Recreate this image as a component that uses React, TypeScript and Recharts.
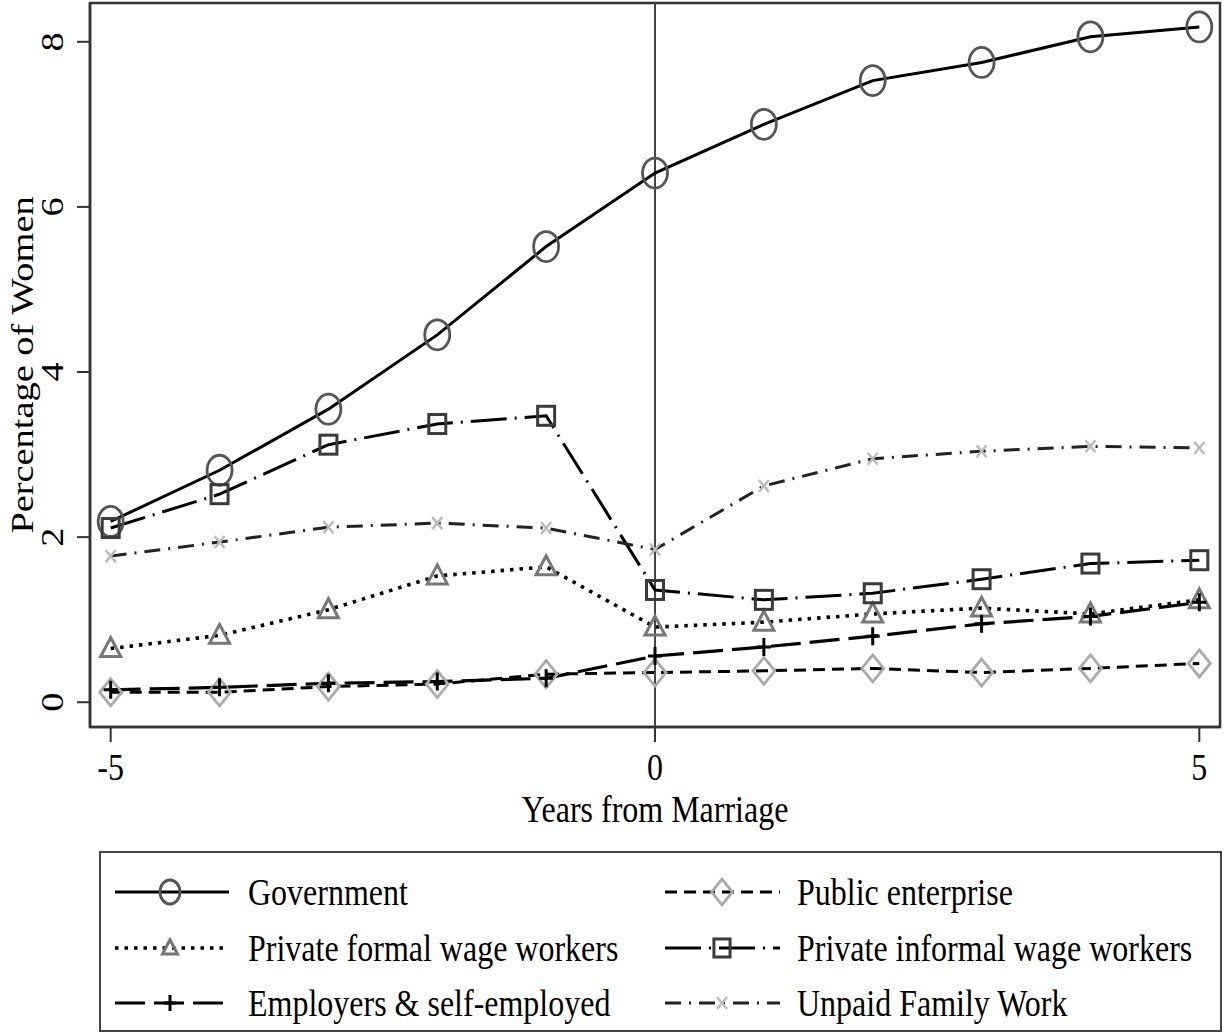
import React from 'react';
import { LineChart, Line, XAxis, YAxis, ReferenceLine, ReferenceArea, Legend, Label } from 'recharts';

// ---- data ----
const YEARS = [-5, -4, -3, -2, -1, 0, 1, 2, 3, 4, 5];
const government = [2.19, 2.81, 3.55, 4.45, 5.52, 6.41, 7.0, 7.53, 7.75, 8.06, 8.18];
const publicEnterprise = [0.12, 0.12, 0.19, 0.22, 0.34, 0.36, 0.38, 0.41, 0.36, 0.41, 0.47];
const privateFormal = [0.65, 0.81, 1.12, 1.53, 1.64, 0.91, 0.97, 1.07, 1.14, 1.07, 1.24];
const privateInformal = [2.11, 2.52, 3.12, 3.37, 3.47, 1.36, 1.24, 1.32, 1.49, 1.68, 1.72];
const employers = [0.15, 0.18, 0.23, 0.25, 0.29, 0.56, 0.67, 0.8, 0.95, 1.04, 1.21];
const unpaidFamily = [1.77, 1.94, 2.12, 2.17, 2.11, 1.85, 2.62, 2.95, 3.04, 3.1, 3.08];

const X_TICKS = [-5, 0, 5];
const Y_TICKS = [0, 2, 4, 6, 8];
const X_TITLE = 'Years from Marriage';
const Y_TITLE = 'Percentage of Women';

type MarkerKind = 'circle' | 'diamond' | 'triangle' | 'square' | 'plus' | 'x';

interface SeriesDef {
  key: string;
  name: string;
  values: number[];
}

const SERIES_DATA: SeriesDef[] = [
  { key: 'government', name: 'Government', values: government },
  { key: 'publicEnterprise', name: 'Public enterprise', values: publicEnterprise },
  { key: 'privateFormal', name: 'Private formal wage workers', values: privateFormal },
  { key: 'privateInformal', name: 'Private informal wage workers', values: privateInformal },
  { key: 'employers', name: 'Employers & self-employed', values: employers },
  { key: 'unpaidFamily', name: 'Unpaid Family Work', values: unpaidFamily },
];

// ---- styles ----
const STYLES: Record<string, { dash?: string; color: string; width: number; marker: MarkerKind; legendScale: number }> = {
  government: { color: '#000', width: 3, marker: 'circle', legendScale: 0.8 },
  publicEnterprise: { dash: '12 7', color: '#000', width: 3, marker: 'diamond', legendScale: 0.95 },
  privateFormal: { dash: '3.5 6', color: '#000', width: 3.6, marker: 'triangle', legendScale: 0.75 },
  privateInformal: { dash: '36 8 2 8', color: '#000', width: 3, marker: 'square', legendScale: 0.95 },
  employers: { dash: '30 9', color: '#000', width: 3.2, marker: 'plus', legendScale: 0.9 },
  unpaidFamily: { dash: '16 8 2 8', color: '#222', width: 3, marker: 'x', legendScale: 1 },
};

const FONT = '"Liberation Serif", "Times New Roman", serif';

const chartData = YEARS.map((year, i) => {
  const row: Record<string, number> = { year };
  SERIES_DATA.forEach((s) => {
    row[s.key] = s.values[i];
  });
  return row;
});

function Marker({ kind, cx, cy, s = 1 }: { kind: MarkerKind; cx: number; cy: number; s?: number }) {
  switch (kind) {
    case 'circle':
      return <ellipse cx={cx} cy={cy} rx={12.5 * s} ry={15 * s} fill="none" stroke="#555" strokeWidth={2.8} />;
    case 'diamond':
      return (
        <polygon
          points={`${cx},${cy - 13.5 * s} ${cx + 11 * s},${cy} ${cx},${cy + 13.5 * s} ${cx - 11 * s},${cy}`}
          fill="none"
          stroke="#aaa"
          strokeWidth={2.8}
        />
      );
    case 'triangle':
      return (
        <polygon
          points={`${cx},${cy - 11 * s} ${cx + 10 * s},${cy + 8 * s} ${cx - 10 * s},${cy + 8 * s}`}
          fill="none"
          stroke="#777"
          strokeWidth={3}
        />
      );
    case 'square':
      return <rect x={cx - 8.5 * s} y={cy - 9.5 * s} width={17 * s} height={19 * s} fill="none" stroke="#3a3a3a" strokeWidth={3} />;
    case 'plus':
      return (
        <path
          d={`M${cx - 7 * s},${cy} H${cx + 7 * s} M${cx},${cy - 9 * s} V${cy + 9 * s}`}
          stroke="#000"
          strokeWidth={3}
          fill="none"
        />
      );
    case 'x':
    default:
      return (
        <path
          d={`M${cx - 5 * s},${cy - 6 * s} L${cx + 5 * s},${cy + 6 * s} M${cx + 5 * s},${cy - 6 * s} L${cx - 5 * s},${cy + 6 * s}`}
          stroke="#bbb"
          strokeWidth={2.5}
          fill="none"
        />
      );
  }
}

const XTick = (props: any) => {
  const { x, y, payload } = props;
  return (
    <g transform={`translate(${x},${y + 36}) scale(1,1.2)`}>
      <text x={0} y={0} textAnchor="middle" fontSize={32} fontFamily={FONT} fill="#000">
        {payload.value}
      </text>
    </g>
  );
};

const YTick = (props: any) => {
  const { x, y, payload } = props;
  return (
    <g transform={`translate(${x - 12},${y}) rotate(-90) scale(1.2,1)`}>
      <text x={0} y={0} textAnchor="middle" fontSize={32} fontFamily={FONT} fill="#000">
        {payload.value}
      </text>
    </g>
  );
};

const XTitle = (props: any) => {
  const vb = props.viewBox || { x: 90, y: 727, width: 1130, height: 100 };
  const cx = vb.x + vb.width / 2;
  return (
    <g transform={`translate(${cx},${vb.y + 95}) scale(1,1.2)`}>
      <text x={0} y={0} textAnchor="middle" fontSize={32} fontFamily={FONT} fill="#000">
        {X_TITLE}
      </text>
    </g>
  );
};

const YTitle = (props: any) => {
  const vb = props.viewBox || { x: 0, y: 3, width: 90, height: 724 };
  const cy = vb.y + vb.height / 2;
  return (
    <g transform={`translate(33,${cy}) rotate(-90) scale(1.2,1)`}>
      <text x={0} y={0} textAnchor="middle" fontSize={32} fontFamily={FONT} fill="#000">
        {Y_TITLE}
      </text>
    </g>
  );
};

const LEGEND_ROWS = [892, 948, 1003];
const LEGEND_COLS = [
  { x1: 115, x2: 229, mx: 170, tx: 248 },
  { x1: 665, x2: 780, mx: 722, tx: 797 },
];

const renderLegend = () => (
  <svg width={1225} height={1035} style={{ position: 'absolute', left: 0, top: 0 }}>
    <rect x={100} y={852} width={1121} height={179} fill="none" stroke="#444" strokeWidth={2} />
    {SERIES_DATA.map((s, i) => {
      const st = STYLES[s.key];
      const col = LEGEND_COLS[i % 2];
      const y = LEGEND_ROWS[Math.floor(i / 2)];
      return (
        <g key={s.key}>
          <line
            x1={col.x1}
            x2={col.x2}
            y1={y}
            y2={y}
            stroke={st.color}
            strokeWidth={st.width}
            strokeDasharray={st.dash}
          />
          <Marker kind={st.marker} cx={col.mx} cy={y} s={st.legendScale} />
          <g transform={`translate(${col.tx},${y + 13}) scale(1,1.2)`}>
            <text x={0} y={0} fontSize={32} fontFamily={FONT} fill="#000">
              {s.name}
            </text>
          </g>
        </g>
      );
    })}
  </svg>
);

export default function App() {
  return (
    <div style={{ position: 'absolute', left: 0, top: 0, width: 1225, height: 1035, background: '#fff' }}>
      <LineChart width={1225} height={1035} data={chartData} margin={{ top: 3, right: 5, left: 0, bottom: 208 }}>
        <XAxis
          dataKey="year"
          type="number"
          domain={[-5.19, 5.19]}
          ticks={X_TICKS}
          allowDataOverflow
          height={100}
          tickSize={15}
          tick={<XTick />}
          axisLine={{ stroke: '#333', strokeWidth: 2.5 }}
          tickLine={{ stroke: '#333', strokeWidth: 2 }}
        >
          <Label content={<XTitle />} />
        </XAxis>
        <YAxis
          type="number"
          domain={[-0.3, 8.47]}
          ticks={Y_TICKS}
          allowDataOverflow
          width={90}
          tickSize={13}
          tick={<YTick />}
          axisLine={{ stroke: '#333', strokeWidth: 2.5 }}
          tickLine={{ stroke: '#333', strokeWidth: 2 }}
        >
          <Label content={<YTitle />} />
        </YAxis>
        <ReferenceArea
          x1={-5.19}
          x2={5.19}
          y1={-0.3}
          y2={8.47}
          fill="none"
          fillOpacity={0}
          stroke="#333"
          strokeWidth={2.5}
          ifOverflow="visible"
        />
        <ReferenceLine x={0} stroke="#444" strokeWidth={2} ifOverflow="visible" />
        {SERIES_DATA.map((s) => {
          const st = STYLES[s.key];
          return (
            <Line
              key={s.key}
              dataKey={s.key}
              name={s.name}
              type="linear"
              stroke={st.color}
              strokeWidth={st.width}
              strokeDasharray={st.dash}
              isAnimationActive={false}
              dot={(p: any) => <Marker key={`${s.key}-${p.index}`} kind={st.marker} cx={p.cx} cy={p.cy} />}
              activeDot={false}
            />
          );
        })}
        <Legend
          layout="horizontal"
          verticalAlign="middle"
          align="center"
          content={renderLegend}
          wrapperStyle={{ left: 0, top: 0, width: 1225, height: 1035, pointerEvents: 'none' }}
        />
      </LineChart>
    </div>
  );
}
